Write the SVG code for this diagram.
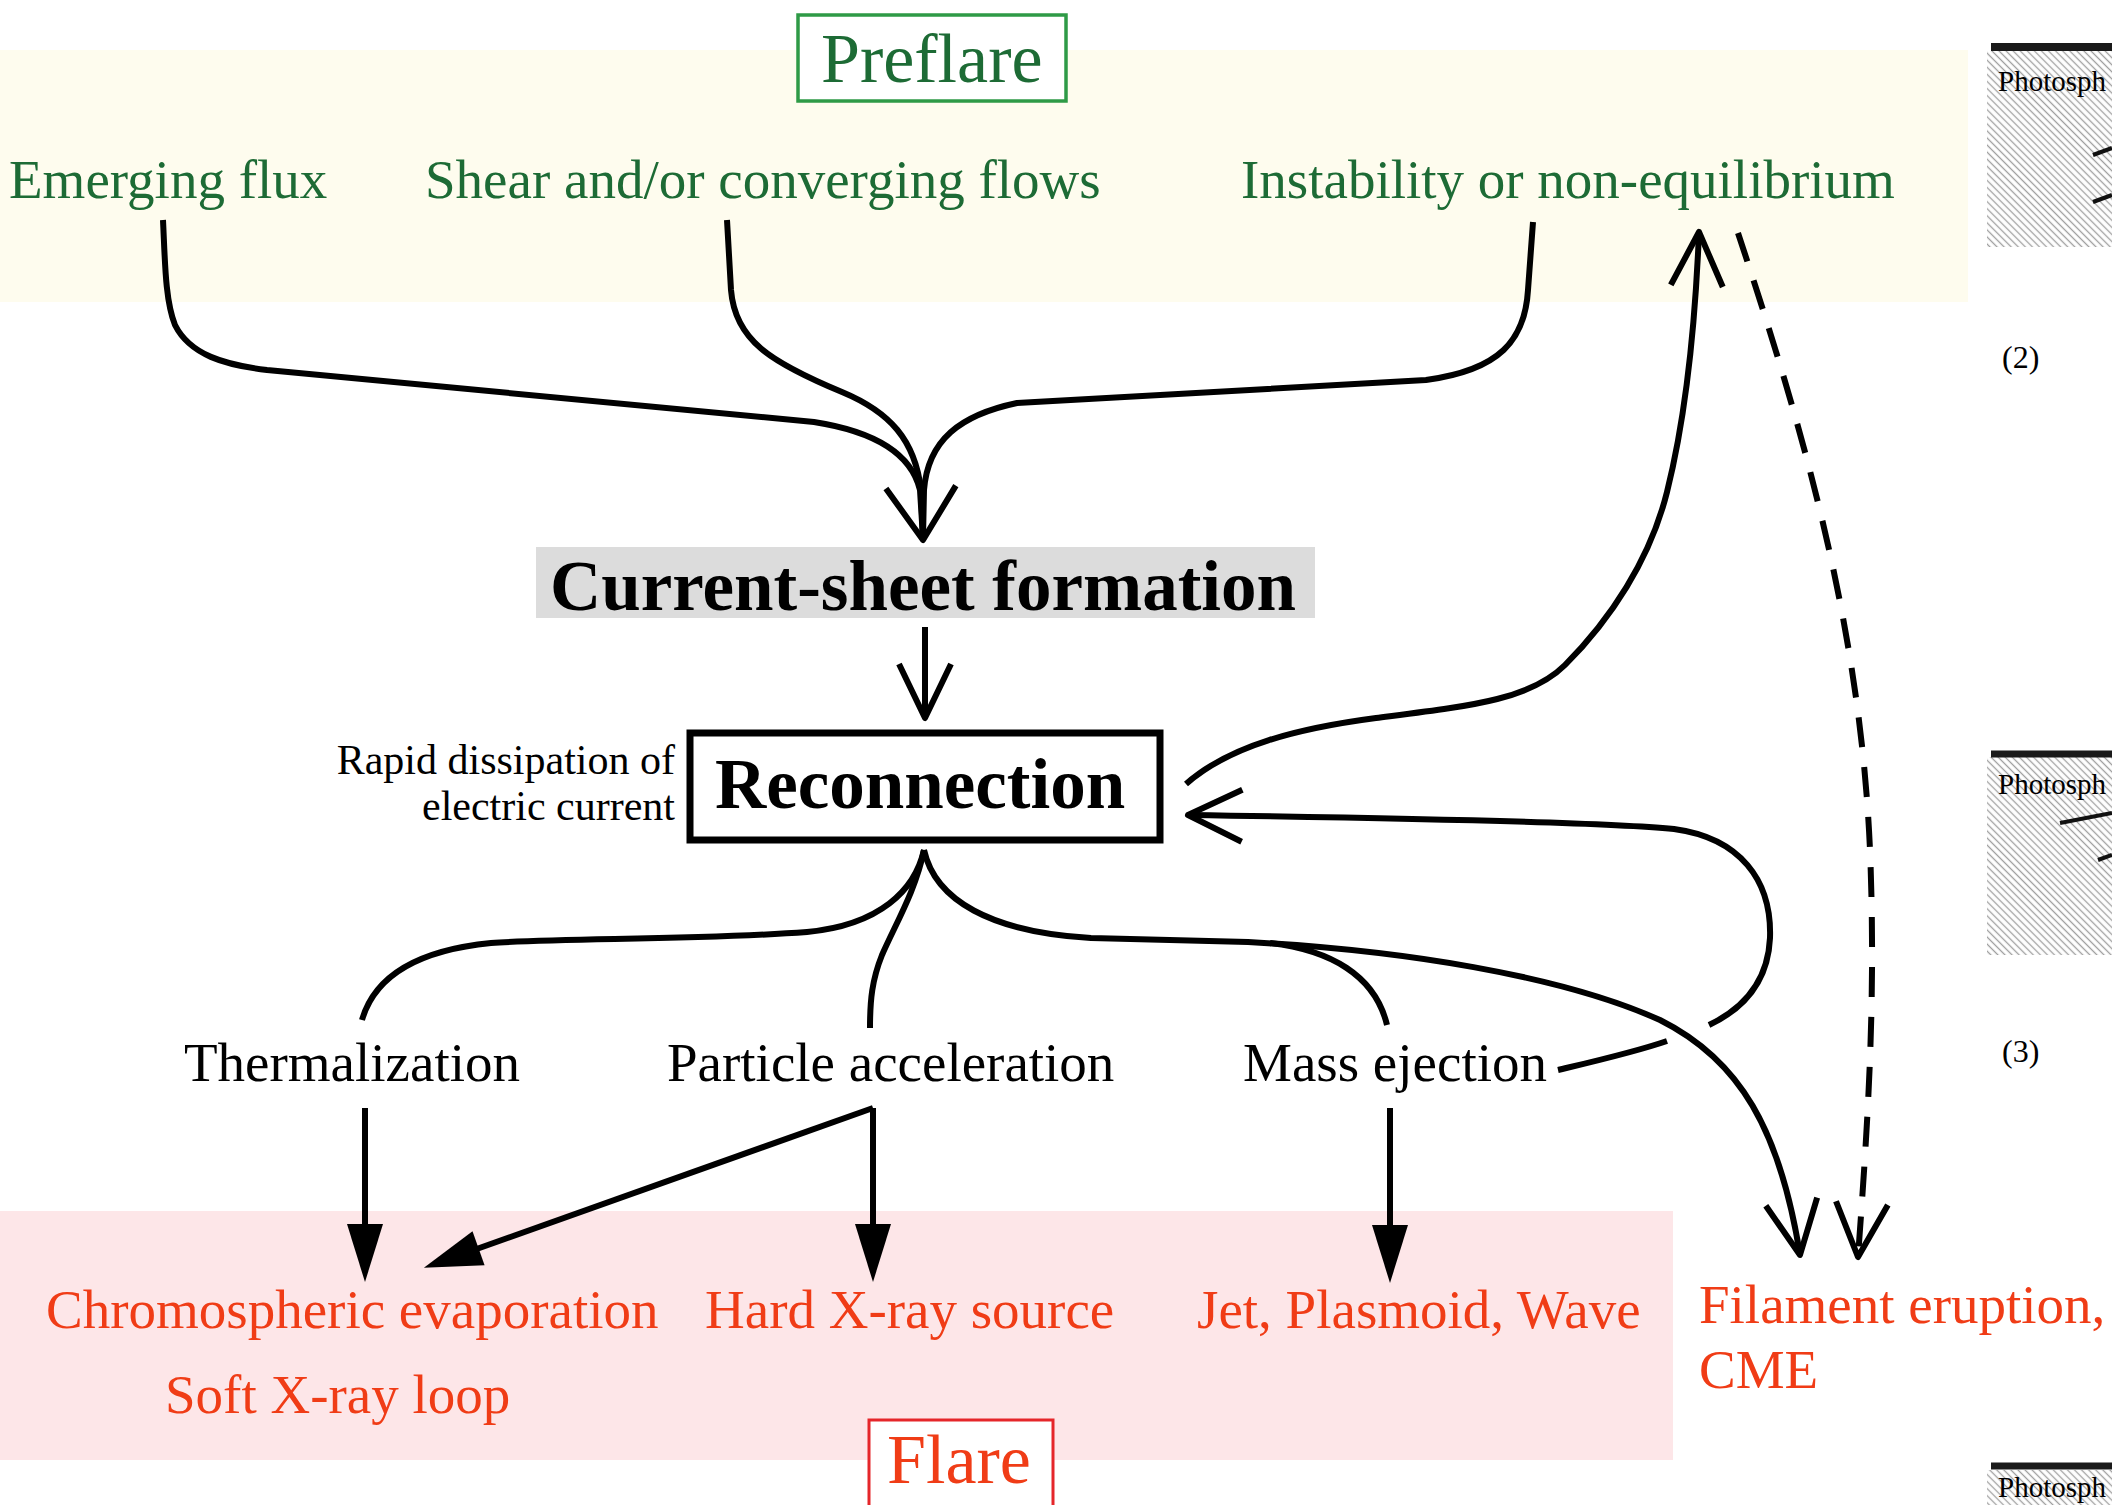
<svg xmlns="http://www.w3.org/2000/svg" width="2112" height="1505" viewBox="0 0 2112 1505">
<defs>
<style>
.lbl{font-family:"Liberation Serif","Times New Roman",serif;font-size:55px}
.green{fill:#1d6b35}
.red{fill:#f03c16}
.blk{fill:#000}
.bold{font-weight:bold;font-size:71px}
.big{font-size:70px}
.small{font-size:42px}
.ln{fill:none;stroke:#000;stroke-width:6;stroke-linejoin:round}
.dash{stroke-dasharray:30 20}
.panel{font-family:"Liberation Serif","Times New Roman",serif;font-size:32px;fill:#000}
.ph{font-size:29px}
.seg{stroke:#111;stroke-width:4;fill:none}
</style>
<marker id="vhead" markerUnits="userSpaceOnUse" viewBox="-70 -40 80 80" markerWidth="80" markerHeight="80" refX="0" refY="0" orient="auto" overflow="visible">
<path d="M-54,-26 L0,0 L-54,26" fill="none" stroke="#000" stroke-width="6" stroke-linejoin="round"/>
</marker>
<marker id="vwide" markerUnits="userSpaceOnUse" viewBox="-70 -40 80 80" markerWidth="80" markerHeight="80" refX="0" refY="0" orient="auto" overflow="visible">
<path d="M-53,-35 L0,0 L-53,35" fill="none" stroke="#000" stroke-width="6" stroke-linejoin="round"/>
</marker>
<marker id="fhead" markerUnits="userSpaceOnUse" viewBox="-70 -40 80 80" markerWidth="80" markerHeight="80" refX="-50" refY="0" orient="auto" overflow="visible">
<path d="M-58,-18 L0,0 L-58,18 Z" fill="#000"/>
</marker>
<pattern id="hatch" patternUnits="userSpaceOnUse" width="5" height="5" patternTransform="rotate(45)">
<rect width="5" height="5" fill="#fff"/>
<line x1="0" y1="2.5" x2="5" y2="2.5" stroke="#a0a0a0" stroke-width="1.3"/>
</pattern>
</defs>
<rect width="2112" height="1505" fill="#fff"/>

<g id="bands">
<rect x="0" y="50" width="1968" height="252" fill="#fefcee"/>
<rect x="0" y="1211" width="1673" height="249" fill="#fde6e8"/>
</g>

<g id="panels">
<rect x="1987" y="51" width="125" height="196" fill="url(#hatch)"/>
<line x1="1991" y1="47" x2="2112" y2="47" stroke="#1a1a1a" stroke-width="8"/>
<text class="panel ph" x="1998" y="91">Photosph</text>
<line class="seg" x1="2093" y1="155" x2="2112" y2="148"/>
<line class="seg" x1="2093" y1="202" x2="2112" y2="195"/>
<text class="panel" x="2002" y="368">(2)</text>
<rect x="1987" y="757" width="125" height="198" fill="url(#hatch)"/>
<line x1="1991" y1="754" x2="2112" y2="754" stroke="#1a1a1a" stroke-width="7"/>
<text class="panel ph" x="1998" y="794">Photosph</text>
<line class="seg" x1="2060" y1="823" x2="2112" y2="813"/>
<line class="seg" x1="2098" y1="860" x2="2112" y2="855"/>
<text class="panel" x="2002" y="1062">(3)</text>
<rect x="1987" y="1470" width="125" height="35" fill="url(#hatch)"/>
<line x1="1991" y1="1466" x2="2112" y2="1466" stroke="#1a1a1a" stroke-width="7"/>
<text class="panel ph" x="1998" y="1497">Photosph</text>
</g>

<g id="preflare">
<rect x="798" y="15" width="268" height="86" fill="#fff" stroke="#2e9a46" stroke-width="3.5"/>
<text class="lbl green big" x="821" y="82">Preflare</text>
</g>
<g id="emerging"><text class="lbl green" x="9" y="198">Emerging flux</text></g>
<g id="shear"><text class="lbl green" x="425" y="198">Shear and/or converging flows</text></g>
<g id="instability"><text class="lbl green" x="1241" y="198">Instability or non-equilibrium</text></g>

<g id="currentsheet">
<rect x="536" y="547" width="779" height="71" fill="#dcdcdc"/>
<text class="lbl blk bold" x="550" y="610">Current-sheet formation</text>
</g>

<g id="reconnection">
<rect x="690" y="733" width="470" height="107" fill="#fff" stroke="#000" stroke-width="7"/>
<text class="lbl blk bold" x="715" y="808">Reconnection</text>
</g>
<g id="rapid">
<text class="lbl blk small" x="675" y="774" text-anchor="end">Rapid dissipation of</text>
<text class="lbl blk small" x="675" y="820" text-anchor="end">electric current</text>
</g>

<g id="thermalization"><text class="lbl blk" x="184" y="1081">Thermalization</text></g>
<g id="particle"><text class="lbl blk" x="667" y="1081">Particle acceleration</text></g>
<g id="mass"><text class="lbl blk" x="1243" y="1081">Mass ejection</text></g>

<g id="chromo">
<text class="lbl red" x="46" y="1328">Chromospheric evaporation</text>
<text class="lbl red" x="165" y="1413">Soft X-ray loop</text>
</g>
<g id="hxr"><text class="lbl red" x="705" y="1328">Hard X-ray source</text></g>
<g id="jet"><text class="lbl red" x="1197" y="1328">Jet, Plasmoid, Wave</text></g>
<g id="filament">
<text class="lbl red" x="1699" y="1323">Filament eruption,</text>
<text class="lbl red" x="1699" y="1388">CME</text>
</g>
<g id="flare">
<rect x="869" y="1420" width="184" height="100" fill="#fff" stroke="#e5262a" stroke-width="3"/>
<text class="lbl red big" x="887" y="1483">Flare</text>
</g>

<g id="connectors">
<path class="ln" d="M163,220 C165,260 165,300 175,325 C190,355 225,365 267,370 L814,422 C865,430 910,448 920,490 L923,538"/>
<path class="ln" d="M1533,222 L1528,290 C1525,340 1500,370 1426,380 L1017,403 C960,415 928,440 924,490 L923,538"/>
<path class="ln" d="M727,220 L731,290 C735,340 770,362 842,392 C890,412 915,440 921,490 L923,540" marker-end="url(#vwide)"/>
<path class="ln" d="M925,627 L925,718" marker-end="url(#vhead)"/>
<path class="ln" d="M924,850 C915,890 880,925 807,932 C700,940 560,938 491,943 C420,950 375,975 362,1020"/>
<path class="ln" d="M924,850 C916,890 895,925 882,955 C872,980 870,1000 870,1028"/>
<path class="ln" d="M924,850 C935,900 990,932 1091,938 L1248,942 C1400,950 1560,975 1660,1020 C1740,1060 1780,1130 1800,1255" marker-end="url(#vhead)"/>
<path class="ln" d="M1270,943 C1330,950 1375,975 1387,1025"/>
<path class="ln" d="M1558,1070 C1600,1060 1635,1052 1667,1041"/>
<path class="ln" d="M1709,1025 C1745,1008 1768,980 1770,938 C1772,880 1740,838 1674,829 C1600,822 1400,818 1188,815" marker-end="url(#vhead)"/>
<path class="ln" d="M1186,784 C1230,745 1300,728 1376,718 C1470,706 1530,700 1565,665 C1610,620 1650,560 1667,492 C1685,420 1695,330 1699,232" marker-end="url(#vhead)"/>
<path class="ln dash" d="M1738,233 C1800,420 1860,620 1870,850 C1876,1000 1868,1120 1858,1257" marker-end="url(#vhead)"/>
<path class="ln" d="M365,1108 L365,1232" marker-end="url(#fhead)"/>
<path class="ln" d="M873,1108 L873,1232" marker-end="url(#fhead)"/>
<path class="ln" d="M873,1108 L471,1251" marker-end="url(#fhead)"/>
<path class="ln" d="M1390,1108 L1390,1233" marker-end="url(#fhead)"/>
</g>
</svg>
